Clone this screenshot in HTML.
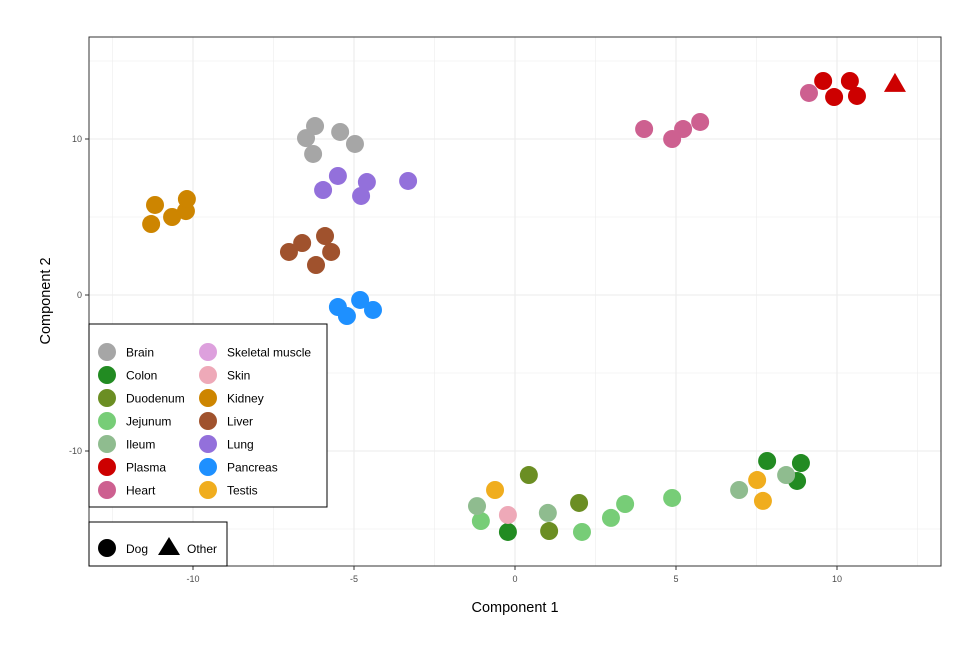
<!DOCTYPE html>
<html><head><meta charset="utf-8"><style>
body{margin:0;background:#fff;font-family:"Liberation Sans",sans-serif}
svg{display:block}
</style></head><body>
<svg id="chart" width="979" height="652" xmlns="http://www.w3.org/2000/svg"></svg>
<script>
const tissues=["Brain","Colon","Duodenum","Jejunum","Ileum","Plasma","Heart","Skeletal muscle","Skin","Kidney","Liver","Lung","Pancreas","Testis"];
const colors=["#A6A6A6","#228B22","#6B8E23","#77CD77","#8FBC8F","#CD0000","#CD6090","#DDA0DD","#EEA9B8","#CD8500","#A0522D","#9370DB","#1E90FF","#F0AD1E"];
const xTicks=[-10,-5,0,5,10];
const yTicks=[-10,0,10];
const ptTissue=["Brain","Brain","Brain","Brain","Brain","Lung","Lung","Lung","Lung","Lung","Kidney","Kidney","Kidney","Kidney","Kidney","Liver","Liver","Liver","Liver","Liver","Pancreas","Pancreas","Pancreas","Pancreas","Heart","Heart","Heart","Heart","Heart","Plasma","Plasma","Plasma","Plasma","Plasma","Colon","Colon","Colon","Colon","Duodenum","Duodenum","Duodenum","Jejunum","Jejunum","Jejunum","Jejunum","Jejunum","Ileum","Ileum","Ileum","Ileum","Skin","Testis","Testis","Testis"];
const ptX=[-6.21,-6.49,-6.27,-5.43,-4.97,-5.96,-5.50,-4.60,-4.78,-3.32,-11.18,-11.30,-10.65,-10.22,-10.19,-7.02,-6.61,-6.18,-5.90,-5.71,-5.50,-5.22,-4.81,-4.41,4.01,4.88,5.22,5.75,9.13,9.57,10.40,9.91,10.62,11.80,-0.22,7.83,8.88,8.76,0.43,1.06,1.99,-1.06,2.08,2.98,3.42,4.88,-1.18,1.02,6.96,8.42,-0.22,-0.62,7.52,7.70];
const ptY=[10.83,10.06,9.04,10.45,9.68,6.73,7.63,7.24,6.35,7.31,5.77,4.55,5.0,5.38,6.15,2.76,3.33,1.92,3.78,2.76,-0.77,-1.35,-0.32,-0.96,10.64,10.0,10.64,11.09,12.95,13.72,13.72,12.69,12.76,13.53,-15.19,-10.64,-10.77,-11.92,-11.54,-15.13,-13.33,-14.49,-15.19,-14.29,-13.4,-13.01,-13.53,-13.97,-12.5,-11.54,-14.1,-12.5,-11.86,-13.2];
const ptShape=ptX.map((v,i)=>i===33?"Other":"Dog");
const NS="http://www.w3.org/2000/svg";
const svg=document.getElementById("chart");
const L=89,R=941,T=37,B=566;
const sx=v=>515+v*32.2, sy=v=>295-v*15.6;
function el(tag,a,parent){const e=document.createElementNS(NS,tag);for(const k in a)e.setAttribute(k,a[k]);(parent||svg).appendChild(e);return e;}
const grid=el("g",{});


for(let v=-12.5;v<=12.5;v+=2.5){const x=sx(v);if(x>L&&x<R)el("line",{x1:x,x2:x,y1:T,y2:B,stroke:"#ebebeb","stroke-width":xTicks.includes(v)?1.1:0.55},grid);}
for(let v=-15;v<=15;v+=5){const y=sy(v);if(y>T&&y<B)el("line",{x1:L,x2:R,y1:y,y2:y,stroke:"#ebebeb","stroke-width":yTicks.includes(v)?1.1:0.55},grid);}
const pts=el("g",{});


ptX.forEach((x,i)=>{const c=colors[tissues.indexOf(ptTissue[i])];let m;
 if(ptShape[i]==="Dog"){m=el("circle",{cx:sx(x),cy:sy(ptY[i]),r:9,fill:c},pts);}
 else{const cx=sx(x),cy=sy(ptY[i]);m=el("polygon",{points:`${cx},${cy-11} ${cx-11},${cy+8} ${cx+11},${cy+8}`,fill:c},pts);}
 
 
});
const frame=el("rect",{x:L,y:T,width:R-L,height:B-T,fill:"none",stroke:"#333","stroke-width":1});


xTicks.forEach(v=>{el("line",{x1:sx(v),x2:sx(v),y1:B,y2:B+4,stroke:"#333"});const t=el("text",{x:sx(v),y:B+16,"text-anchor":"middle","font-size":9,fill:"#4d4d4d"});t.textContent=v;
 
 });
yTicks.forEach(v=>{el("line",{x1:L-4,x2:L,y1:sy(v),y2:sy(v),stroke:"#333"});const t=el("text",{x:L-7,y:sy(v)+3,"text-anchor":"end","font-size":9,fill:"#4d4d4d"});t.textContent=v;
 
 });
let t=el("text",{x:515,y:612,"text-anchor":"middle","font-size":14.5,fill:"#000"});t.textContent="Component 1";


t=el("text",{x:50,y:301,"text-anchor":"middle","font-size":14.5,fill:"#000",transform:"rotate(-90 50 301)"});t.textContent="Component 2";


const lg=el("g",{});


el("rect",{x:89,y:324,width:238,height:183,fill:"#fff",stroke:"#000"},lg);
const col1=["Brain","Colon","Duodenum","Jejunum","Ileum","Plasma","Heart"],col2=["Skeletal muscle","Skin","Kidney","Liver","Lung","Pancreas","Testis"];
[col1,col2].forEach((col,ci)=>col.forEach((n,ri)=>{const x=ci?208:107,y=352+ri*23;
 el("circle",{cx:x,cy:y,r:9,fill:colors[tissues.indexOf(n)]},lg);
 const tt=el("text",{x:x+19,y:y+4.5,"font-size":12,fill:"#000"},lg);tt.textContent=n;
 
 }));
const lg2=el("g",{});


el("rect",{x:89,y:522,width:138,height:44,fill:"#fff",stroke:"#000"},lg2);
el("circle",{cx:107,cy:548,r:9,fill:"#000"},lg2);
t=el("text",{x:126,y:553,"font-size":12},lg2);t.textContent="Dog";


el("polygon",{points:"169,537 158,555 180,555",fill:"#000"},lg2);
t=el("text",{x:187,y:553,"font-size":12},lg2);t.textContent="Other";


</script>
</body></html>
